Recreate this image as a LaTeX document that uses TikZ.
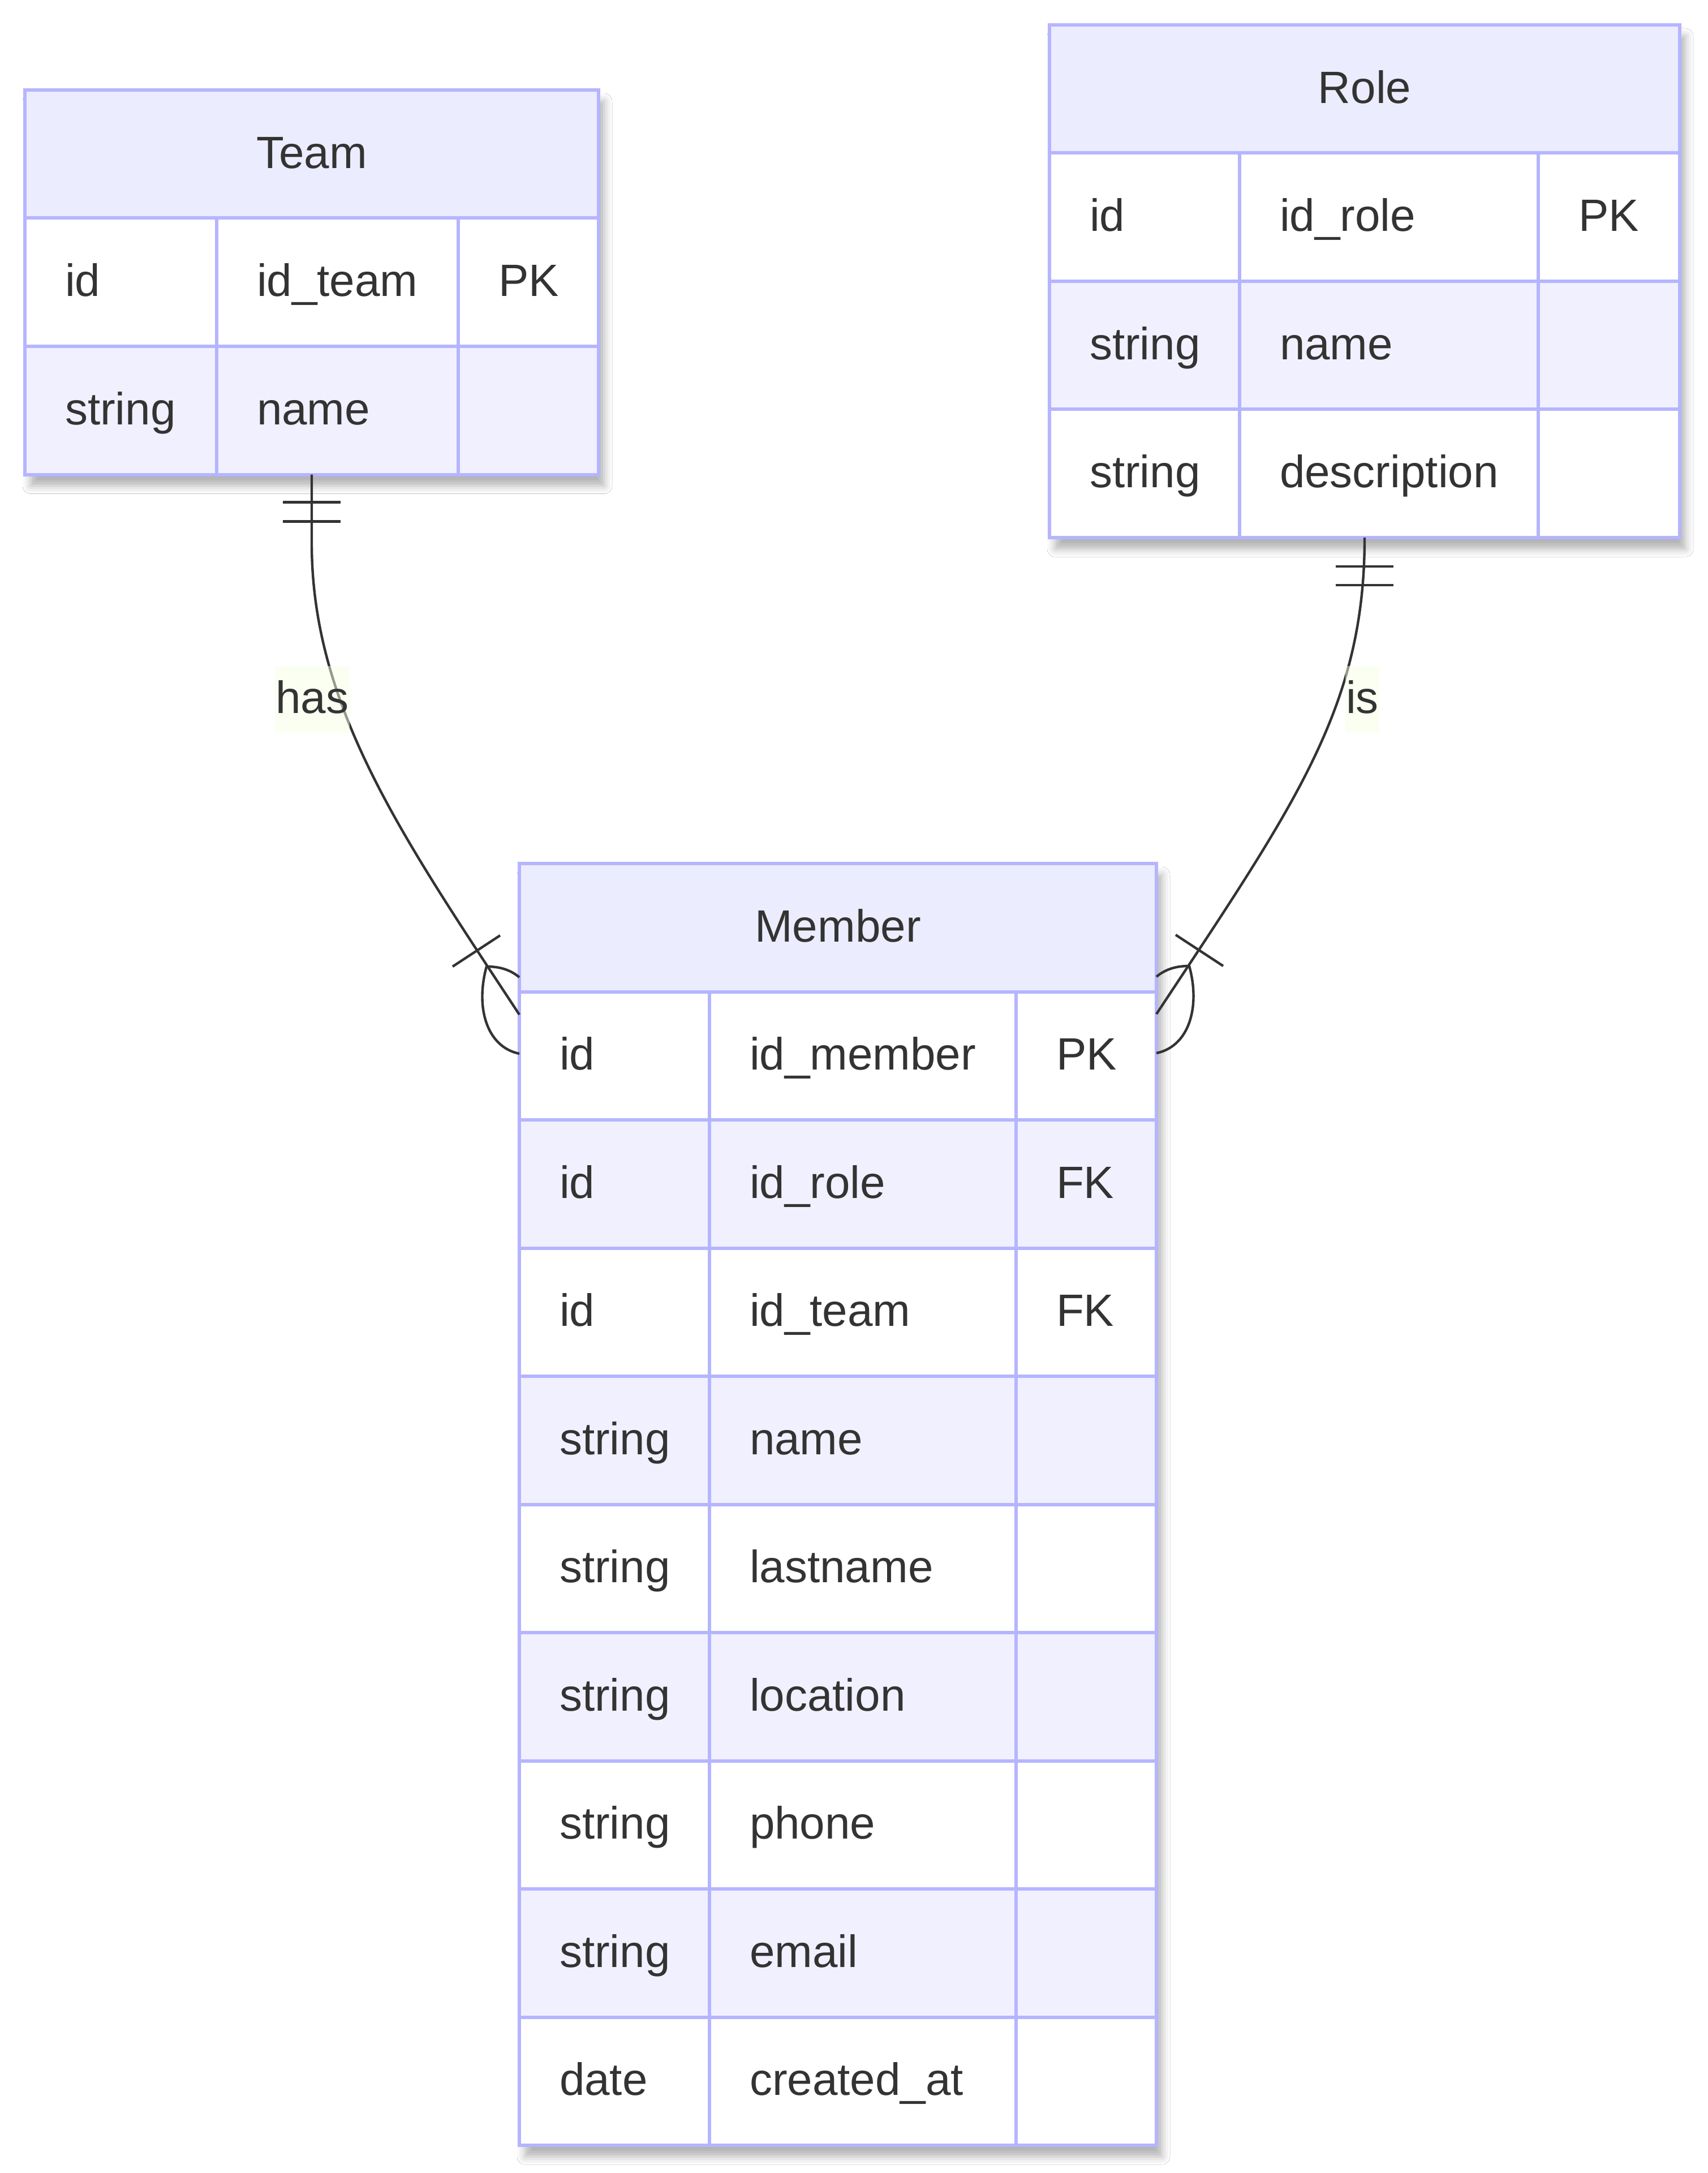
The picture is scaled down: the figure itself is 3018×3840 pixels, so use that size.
\documentclass[tikz,border=0pt]{standalone}
\usepackage{fontspec}
\setmainfont{Liberation Sans}
\usetikzlibrary{calc, shadows.blur}

\definecolor{erhead}{HTML}{ECECFF}
\definecolor{erodd}{HTML}{F1F0FF}
\definecolor{erline}{HTML}{B5B5FF}
\definecolor{ertext}{HTML}{333333}
\definecolor{erlabel}{HTML}{F6FFE6}

\begin{document}
\begin{tikzpicture}[x=0.25pt, y=-0.25pt,
    every node/.style={font=\fontsize{20pt}{24pt}\selectfont, text=ertext, outer sep=0pt},
    entity/.style={draw=erline, line width=1.5pt, fill=white, anchor=north west, inner sep=0pt,
        blur shadow={shadow xshift=2.5pt, shadow yshift=-5pt, shadow blur radius=3.5pt, shadow opacity=30}},
    headcell/.style={draw=erline, line width=1.5pt, fill=erhead, anchor=north west, inner sep=0pt,
        minimum height=56.625pt, text height=1.25em, text depth=0pt},
    cell/.style={draw=erline, line width=1.5pt, anchor=north west, inner sep=0pt, inner xsep=17.75pt,
        minimum height=56.625pt, text height=1.25em, text depth=0pt, align=left},
    rel/.style={draw=ertext, line width=1.1pt},
    rellabel/.style={fill=erlabel, fill opacity=0.5, text opacity=1, inner sep=0pt, inner xsep=0.3pt,
        minimum height=29.5pt, text height=1.2em, text depth=0pt}]
     \fill[white] (0,0) rectangle (3018,3840);
     \useasboundingbox (0,0) rectangle (3018,3840);

     % Team
     \node[entity, minimum width=253.5pt, minimum height=169.875pt] (team) at (44,159) {};
     \node[headcell, minimum width=253.5pt] (team-head) at (team.north west) {Team};
     \foreach \ty/\nm/\key/\bg [count=\i] in {id/id\_team/PK/white, string/name/{}/erodd} {
          \node[cell, fill=\bg, text width=49.25pt] (team-\i-1) at (44,{159+226.5*\i}) {\ty};
          \node[cell, fill=\bg, text width=71.25pt] (team-\i-2) at (team-\i-1.north east) {\nm};
          \node[cell, fill=\bg, text width=26.5pt]  (team-\i-3) at (team-\i-2.north east) {\key};
     }

     % Role
     \node[entity, minimum width=278.5pt, minimum height=226.5pt] (role) at (1855,44) {};
     \node[headcell, minimum width=278.5pt] (role-head) at (role.north west) {Role};
     \foreach \ty/\nm/\key/\bg [count=\i] in {id/id\_role/PK/white, string/name/{}/erodd,
               string/description/{}/white} {
          \node[cell, fill=\bg, text width=48.5pt] (role-\i-1) at (1855,{44+226.5*\i}) {\ty};
          \node[cell, fill=\bg, text width=96.5pt] (role-\i-2) at (role-\i-1.north east) {\nm};
          \node[cell, fill=\bg, text width=27pt]   (role-\i-3) at (role-\i-2.north east) {\key};
     }

     % Member
     \node[entity, minimum width=281.5pt, minimum height=566.25pt] (member) at (918,1526) {};
     \node[headcell, minimum width=281.5pt] (member-head) at (member.north west) {Member};
     \foreach \ty/\nm/\key/\bg [count=\i] in {id/id\_member/PK/white, id/id\_role/FK/erodd,
               id/id\_team/FK/white, string/name/{}/erodd, string/lastname/{}/white,
               string/location/{}/erodd, string/phone/{}/white, string/email/{}/erodd,
               date/created\_at/{}/white} {
          \node[cell, fill=\bg, text width=48.5pt] (member-\i-1) at (918,{1526+226.5*\i}) {\ty};
          \node[cell, fill=\bg, text width=100pt]  (member-\i-2) at (member-\i-1.north east) {\nm};
          \node[cell, fill=\bg, text width=26.5pt] (member-\i-3) at (member-\i-2.north east) {\key};
     }

     \coordinate (has-end) at ([yshift=-66.75pt]member.north west);
     \coordinate (is-end)  at ([yshift=-66.5pt]member.north east);

     % Team ||--|{ Member
     \draw[rel] (team.south) -- ++(0,121) .. controls ++(0,290) and ($(has-end)+(-206,-313)$) .. (has-end);
     \draw[rel] ($(team.south)+(-51,49)$) -- ++(102,0)
                ($(team.south)+(-51,83)$) -- ++(102,0);
     \draw[rel] ($(has-end)+(-118,-85)$) -- ($(has-end)+(-34,-140)$);
     \draw[rel] ($(has-end)+(0,-66)$) .. controls ($(has-end)+(-18,-81)$) and ($(has-end)+(-38,-85)$) .. ($(has-end)+(-58,-85)$)
                .. controls ($(has-end)+(-78,-13)$) and ($(has-end)+(-58,57)$) .. ($(has-end)+(0,69)$);

     % Role ||--|{ Member
     \draw[rel] (role.south) .. controls ++(0,300) and ($(is-end)+(246,-372)$) .. (is-end);
     \draw[rel] ($(role.south)+(-51,51)$) -- ++(102,0)
                ($(role.south)+(-51,84)$) -- ++(102,0);
     \draw[rel] ($(is-end)+(118,-85)$) -- ($(is-end)+(34,-140)$);
     \draw[rel] ($(is-end)+(0,-66)$) .. controls ($(is-end)+(18,-81)$) and ($(is-end)+(38,-85)$) .. ($(is-end)+(58,-85)$)
                .. controls ($(is-end)+(78,-13)$) and ($(is-end)+(58,57)$) .. ($(is-end)+(0,69)$);

     \node[rellabel] (has) at (552,1236) {has};
     \node[rellabel] (is)  at (2408,1236) {is};
\end{tikzpicture}
\end{document}
